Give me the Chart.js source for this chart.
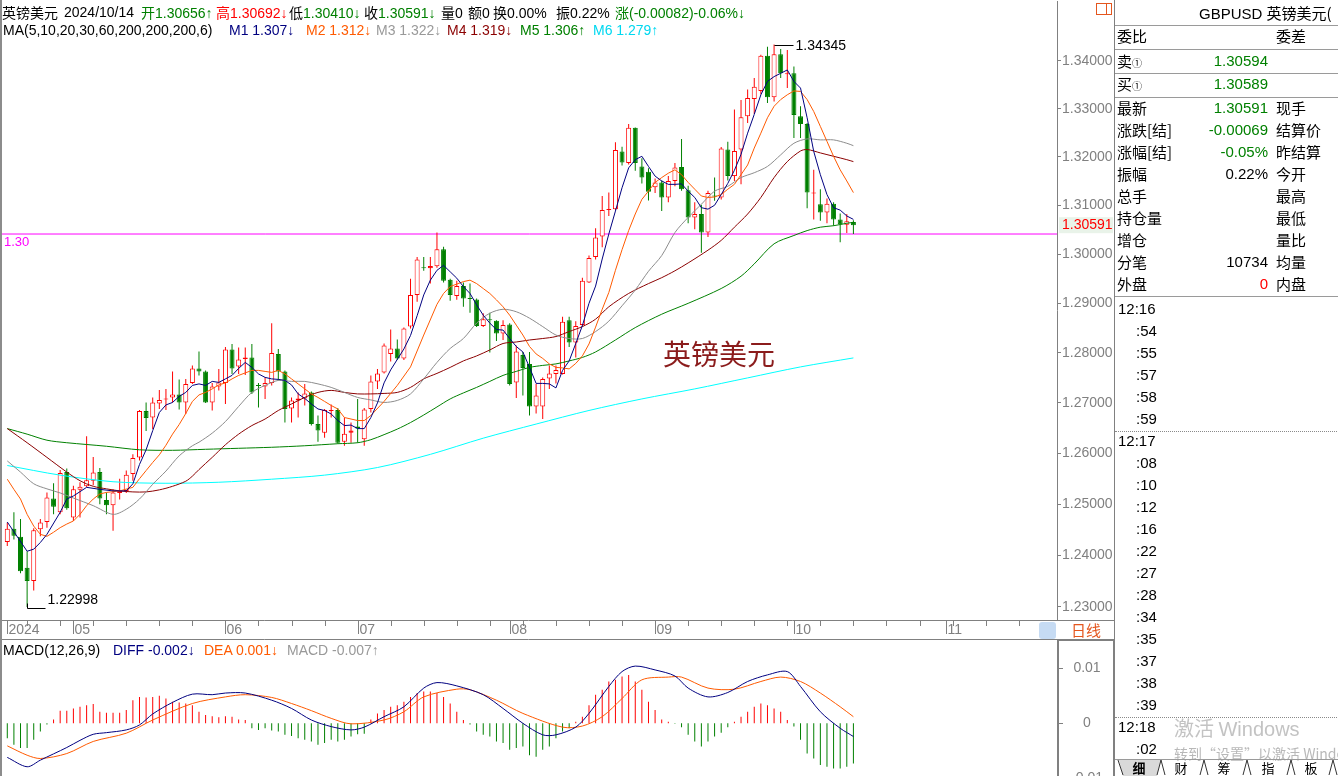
<!DOCTYPE html>
<html lang="zh-CN">
<head>
<meta charset="utf-8">
<title>英镑美元 GBPUSD 日线</title>
<script src="https://cdn.jsdelivr.net/npm/chart.js@4.4.1/dist/chart.umd.min.js"></script>
<style>
*{box-sizing:border-box}
html,body{margin:0;padding:0;background:#fff}
body{width:1338px;height:776px;overflow:hidden;position:relative;font-family:"Liberation Sans",Arial,"Noto Sans CJK SC",sans-serif;font-size:14px;color:#000}
canvas{position:absolute;display:block}
#cMain{left:0;top:0}
#cMacd{left:0;top:641px}
.a{position:absolute;white-space:nowrap;line-height:16px;font-size:14px}
.cj{font-family:"Noto Sans CJK SC",sans-serif}
.p{position:absolute;white-space:nowrap;font-size:15px;line-height:20px;height:20px}
.hl{position:absolute;left:0;width:224px;height:1px;background:#9a9a9a}
.dl{position:absolute;left:0;width:224px;height:0;border-top:1px dotted #8a8a8a}
</style>
</head>
<body>
<canvas id="cMain" width="1115" height="641"></canvas>
<canvas id="cMacd" width="1115" height="135"></canvas>

<!-- frame lines -->
<div style="position:absolute;left:0;top:0;width:2px;height:776px;background:#8c8c8c"></div>
<div style="position:absolute;left:1057px;top:620px;width:57px;height:1px;background:#808080"></div>
<div style="position:absolute;left:1039px;top:622px;width:17px;height:17px;background:#c6dbf3;border-radius:3px"></div>
<div class="a cj" style="left:1071px;top:621px;line-height:18px;font-size:15px;color:#e4561e">日线</div>
<div style="position:absolute;left:1057px;top:639px;width:58px;height:137px;border:2px solid #808080;border-bottom:none"></div>
<div style="position:absolute;left:1096px;top:3px;width:16px;height:12px;border:1px solid #e4561e"></div>
<div style="position:absolute;left:1106px;top:3px;width:1px;height:12px;background:#e4561e"></div>

<!-- main header -->
<div class="a cj" style="left:2px;top:4px">英镑美元</div>
<div class="a" style="left:64px;top:4px">2024/10/14</div>
<div class="a" style="left:141px;top:4px;color:#008000"><span class="cj">开</span>1.30656↑</div>
<div class="a" style="left:216px;top:4px;color:#ff0000"><span class="cj">高</span>1.30692↓</div>
<div class="a" style="left:289px;top:4px;color:#008000"><span class="cj" style="color:#000">低</span>1.30410↓</div>
<div class="a" style="left:364px;top:4px;color:#008000"><span class="cj" style="color:#000">收</span>1.30591↓</div>
<div class="a" style="left:441px;top:4px"><span class="cj">量</span>0</div>
<div class="a" style="left:468px;top:4px"><span class="cj">额</span>0</div>
<div class="a" style="left:493px;top:4px"><span class="cj">换</span>0.00%</div>
<div class="a" style="left:556px;top:4px"><span class="cj">振</span>0.22%</div>
<div class="a" style="left:615px;top:4px;color:#008000"><span class="cj">涨</span>(-0.00082)-0.06%↓</div>

<div class="a" style="left:3px;top:22px">MA(5,10,20,30,60,200,200,200,6)</div>
<div class="a" style="left:229px;top:22px;color:#000080">M1 1.307↓</div>
<div class="a" style="left:306px;top:22px;color:#ff5a00">M2 1.312↓</div>
<div class="a" style="left:376px;top:22px;color:#999999">M3 1.322↓</div>
<div class="a" style="left:447px;top:22px;color:#8b0000">M4 1.319↓</div>
<div class="a" style="left:520px;top:22px;color:#008000">M5 1.306↑</div>
<div class="a" style="left:593px;top:22px;color:#00d8f0">M6 1.279↑</div>

<!-- MACD header -->
<div class="a" style="left:3px;top:642px">MACD(12,26,9)</div>
<div class="a" style="left:113px;top:642px;color:#000080">DIFF -0.002↓</div>
<div class="a" style="left:204px;top:642px;color:#ff5a00">DEA 0.001↓</div>
<div class="a" style="left:287px;top:642px;color:#999999">MACD -0.007↑</div>

<!-- right info panel -->
<div id="panel" style="position:absolute;left:1114px;top:0;width:224px;height:776px;border-left:1px solid #808080;overflow:hidden">
  <div class="p" style="left:84px;top:3px">GBPUSD <span class="cj">英镑美元(</span></div>
  <div class="hl" style="top:25px"></div>
  <div class="p cj" style="left:2px;top:26px">委比</div><div class="p cj" style="left:161px;top:26px">委差</div>
  <div class="hl" style="top:49px"></div>
  <div class="p cj" style="left:2px;top:51px">卖<span style="font-size:10px">①</span></div><div class="p" style="right:70px;top:51px;color:#008000">1.30594</div>
  <div class="hl" style="top:73px"></div>
  <div class="p cj" style="left:2px;top:74px">买<span style="font-size:10px">①</span></div><div class="p" style="right:70px;top:74px;color:#008000">1.30589</div>
  <div class="hl" style="top:97px"></div>
  <div id="rows"></div>
  <div class="hl" style="top:296px"></div>
  <div id="ticks"></div>
  <div class="dl" style="top:431px"></div>
  <div class="dl" style="top:717px"></div>
  <div class="p cj" style="left:59px;top:715px;font-size:20px;line-height:26px;height:26px;color:#c3c3c3">激活 <span style="font-family:'Liberation Sans',Arial,sans-serif">Windows</span></div>
  <div class="p cj" style="left:59px;top:743px;font-size:14px;color:#b8b8b8">转到“设置”以激活 Windows。</div>
  <svg style="position:absolute;left:0;top:758px" width="224" height="18">
    <line x1="0" y1="1.5" x2="224" y2="1.5" stroke="#9a9a9a"/>
    <polygon points="4,2 8,18 42,18 46,2" fill="#d9d9d9"/>
    <path d="M3,2 L8,17 M46,2 L42,17 M46,2 L50,17 M89,2 L85,17 M89,2 L93,17 M132,2 L128,17 M132,2 L136,17 M176,2 L172,17 M176,2 L180,17 M218,2 L214,17 M218,2 L222,17" stroke="#333" stroke-width="1" fill="none"/>
    <g font-family="Noto Sans CJK SC" font-size="13" text-anchor="middle">
      <text x="24" y="15" font-weight="bold">细</text>
      <text x="66" y="15">财</text>
      <text x="109" y="15">筹</text>
      <text x="153" y="15">指</text>
      <text x="196" y="15">板</text>
    </g>
  </svg>
</div>

<script>
// ---------------- data ----------------
const START_DATE = '2024-04-17';      // first trading day shown
const SLOT_COUNT = 159;               // trading-day slots across the chart (incl. empty future)
const PRICE_TICKS = [1.23,1.24,1.25,1.26,1.27,1.28,1.29,1.30,1.31,1.32,1.33,1.34];
const MACD_TICKS = [0.01,0,-0.01];
const H_LINE = 1.3041, H_LINE_LABEL = '1.30';
const LAST_PRICE = 1.30591;

const OPEN = [1.2426,1.2452,1.2436,1.2376,1.2350,1.2451,1.2465,1.2511,1.2484,1.2563,
1.2474,1.2528,1.2535,1.2546,1.2563,1.2508,1.2498,1.2522,1.2526,1.2559,
1.2592,1.2684,1.2671,1.2699,1.2707,1.2711,1.2717,1.2701,1.2740,1.2769,
1.2763,1.2701,1.2733,1.2740,1.2807,1.2773,1.2788,1.2791,1.2736,1.2733,
1.2740,1.2798,1.2763,1.2689,1.2705,1.2709,1.2721,1.2658,1.2641,1.2684,
1.2686,1.2623,1.2641,1.2653,1.2628,1.2688,1.2743,1.2761,1.2798,1.2809,
1.2789,1.2853,1.2917,1.2973,1.2971,1.2975,1.3010,1.2948,1.2915,1.2935,
1.2911,1.2908,1.2854,1.2868,1.2865,1.2839,1.2857,1.2741,1.2796,1.2778,
1.2693,1.2693,1.2749,1.2758,1.2758,1.2866,1.2821,1.2856,1.2942,1.2994,
1.3036,1.3090,1.3092,1.3211,1.3187,1.3260,1.3180,1.3169,1.3137,1.3147,
1.3116,1.3150,1.3179,1.3131,1.3075,1.3082,1.3044,1.3120,1.3116,1.3215,
1.3160,1.3215,1.3284,1.3320,1.3337,1.3411,1.3324,1.3414,1.3372,1.3374,
1.3284,1.3268,1.3124,1.3102,1.3085,1.3103,1.3071,1.3060,1.30656];
const HIGH = [1.2464,1.2484,1.2471,1.2408,1.2453,1.2471,1.2523,1.2541,1.2567,1.2570,
1.2536,1.2543,1.2634,1.2593,1.2571,1.2523,1.2529,1.2550,1.2566,1.2598,
1.2686,1.2701,1.2711,1.2726,1.2728,1.2763,1.2747,1.2748,1.2775,1.2803,
1.2765,1.2740,1.2768,1.2812,1.2818,1.2811,1.2811,1.2818,1.2740,1.2751,
1.2860,1.2808,1.2765,1.2711,1.2721,1.2738,1.2723,1.2675,1.2688,1.2697,
1.2690,1.2671,1.2661,1.2708,1.2690,1.2755,1.2768,1.2819,1.2847,1.2827,
1.2851,1.2950,1.2994,1.2994,1.2994,1.3044,1.3015,1.2950,1.2946,1.2942,
1.2940,1.2910,1.2880,1.2881,1.2866,1.2866,1.2860,1.2815,1.2802,1.2802,
1.2738,1.2751,1.2775,1.2775,1.2873,1.2873,1.2864,1.2952,1.2997,1.3053,
1.3119,1.3126,1.3230,1.3221,1.3268,1.3261,1.3197,1.3176,1.3155,1.3151,
1.3160,1.3187,1.3237,1.3140,1.3106,1.3101,1.3130,1.3157,1.3220,1.3231,
1.3298,1.3318,1.3340,1.3364,1.3413,1.3430,1.34345,1.3425,1.3423,1.3388,
1.3305,1.3270,1.3173,1.3133,1.3114,1.3106,1.3083,1.3082,1.30692];
const LOW = [1.2418,1.2431,1.2365,1.22998,1.2332,1.2437,1.2454,1.2480,1.2480,1.2489,
1.2467,1.2474,1.2533,1.2537,1.2500,1.2480,1.2448,1.2509,1.2522,1.2546,
1.2586,1.2644,1.2648,1.2688,1.2686,1.2701,1.2687,1.2678,1.2738,1.2755,
1.2700,1.2685,1.2725,1.2698,1.2758,1.2758,1.2756,1.2718,1.2691,1.2708,
1.2735,1.2745,1.2661,1.2661,1.2671,1.2695,1.2655,1.2623,1.2631,1.2671,
1.2619,1.2615,1.2621,1.2621,1.2615,1.2681,1.2728,1.2759,1.2783,1.2786,
1.2786,1.2849,1.2903,1.2966,1.2940,1.2972,1.2942,1.2905,1.2907,1.2893,
1.2881,1.2852,1.2852,1.2801,1.2824,1.2826,1.2735,1.2710,1.2715,1.2675,
1.2679,1.2668,1.2728,1.2739,1.2757,1.2812,1.2791,1.2853,1.2941,1.2989,
1.3014,1.3078,1.3090,1.3182,1.3184,1.3171,1.3145,1.3110,1.3125,1.3088,
1.3106,1.3139,1.3130,1.3063,1.3051,1.3003,1.3035,1.3109,1.3112,1.3151,
1.3150,1.3143,1.3270,1.3289,1.3330,1.3312,1.3315,1.3364,1.3343,1.3239,
1.3239,1.3094,1.3071,1.3068,1.3063,1.3058,1.3024,1.3043,1.30410];
const CLOSE = [1.2452,1.2438,1.2369,1.2350,1.2449,1.2464,1.2513,1.2495,1.2561,1.2492,
1.2529,1.2534,1.2547,1.2562,1.2511,1.2498,1.2523,1.2526,1.2558,1.2591,
1.2684,1.2670,1.2701,1.2706,1.2709,1.2717,1.2701,1.2738,1.2769,1.2763,
1.2701,1.2733,1.2741,1.2807,1.2769,1.2787,1.2791,1.2721,1.2734,1.2740,
1.2800,1.2763,1.2688,1.2705,1.2709,1.2719,1.2658,1.2645,1.2686,1.2686,
1.2621,1.2639,1.2645,1.2649,1.2687,1.2743,1.2759,1.2815,1.2809,1.2789,
1.2849,1.2917,1.2989,1.2971,1.2976,1.3010,1.2946,1.2917,1.2935,1.2910,
1.2909,1.2854,1.2868,1.2866,1.2839,1.2856,1.2738,1.2803,1.2770,1.2693,
1.2715,1.2748,1.2759,1.2766,1.2863,1.2821,1.2854,1.2946,1.2992,1.3034,
1.3090,1.3092,1.3214,1.3188,1.3260,1.3187,1.3157,1.3128,1.3147,1.3116,
1.3150,1.3178,1.3133,1.3075,1.3082,1.3044,1.3125,1.3118,1.3217,1.3160,
1.3212,1.3282,1.3322,1.3346,1.3411,1.3324,1.3414,1.3374,1.3374,1.3287,
1.3268,1.3126,1.3126,1.3085,1.3103,1.3071,1.3061,1.3067,1.30591];

// moving averages: [candle index, value]
const MA5 = [[0,1.2465],[3,1.2408],[4,1.2412],[5,1.2425],[6,1.2441],[8,1.2484],[9,1.2510],[10,1.2516],[12,1.2533],[14,1.2529],[16,1.2526],[18,1.2526],[19,1.2540],[20,1.2578],[21,1.2607],[22,1.2645],[23,1.2681],[24,1.2696],[25,1.2701],[26,1.2713],[27,1.2721],[28,1.2735],[29,1.2738],[30,1.2735],[31,1.2743],[32,1.2741],[33,1.2748],[34,1.2755],[35,1.2769],[36,1.2781],[37,1.2771],[38,1.2758],[39,1.2751],[40,1.2748],[41,1.2747],[42,1.2745],[43,1.2736],[44,1.2718],[45,1.2709],[46,1.2698],[47,1.2688],[48,1.2685],[49,1.2678],[50,1.2665],[51,1.2655],[52,1.2656],[53,1.2649],[54,1.2649],[55,1.2671],[56,1.2700],[57,1.2740],[58,1.2766],[59,1.2787],[60,1.2808],[61,1.2835],[62,1.2875],[63,1.2917],[64,1.2947],[65,1.2967],[66,1.2977],[67,1.2964],[68,1.2951],[69,1.2934],[70,1.2920],[71,1.2897],[72,1.2876],[73,1.2860],[74,1.2847],[75,1.2846],[76,1.2829],[77,1.2813],[78,1.2802],[79,1.2771],[80,1.2739],[81,1.2739],[82,1.2738],[83,1.2730],[84,1.2765],[85,1.2784],[86,1.2819],[87,1.2855],[88,1.2900],[89,1.2935],[90,1.2990],[91,1.3041],[92,1.3088],[93,1.3136],[94,1.3177],[95,1.3194],[96,1.3201],[97,1.3180],[98,1.3160],[99,1.3150],[100,1.3143],[101,1.3143],[102,1.3144],[103,1.3129],[104,1.3116],[105,1.3095],[106,1.3092],[107,1.3100],[108,1.3122],[109,1.3145],[110,1.3172],[111,1.3205],[112,1.3249],[113,1.3288],[114,1.3329],[115,1.3357],[116,1.3367],[117,1.3374],[118,1.3381],[119,1.3357],[120,1.3343],[121,1.3281],[122,1.3211],[123,1.3163],[124,1.3122],[125,1.3095],[126,1.3090],[127,1.3078],[128,1.3071]];
const MA10 = [[0,1.2549],[1,1.2529],[2,1.2510],[3,1.2480],[4,1.2457],[5,1.2441],[6,1.2437],[7,1.2445],[8,1.2454],[9,1.2461],[10,1.2467],[11,1.2480],[12,1.2497],[13,1.2510],[14,1.2520],[15,1.2523],[17,1.2526],[19,1.2533],[20,1.2550],[21,1.2566],[22,1.2582],[23,1.2597],[24,1.2616],[25,1.2638],[26,1.2657],[27,1.2679],[28,1.2703],[29,1.2716],[30,1.2721],[31,1.2728],[32,1.2736],[33,1.2740],[34,1.2748],[35,1.2755],[36,1.2760],[37,1.2765],[38,1.2765],[39,1.2763],[40,1.2761],[41,1.2765],[42,1.2758],[43,1.2748],[44,1.2738],[45,1.2728],[46,1.2718],[47,1.2711],[48,1.2703],[49,1.2695],[50,1.2688],[51,1.2671],[52,1.2668],[53,1.2665],[54,1.2665],[55,1.2675],[57,1.2703],[59,1.2735],[61,1.2772],[63,1.2836],[65,1.2898],[66,1.2920],[67,1.2934],[69,1.2944],[70,1.2947],[71,1.2940],[72,1.2930],[73,1.2920],[74,1.2907],[75,1.2893],[76,1.2876],[77,1.2856],[78,1.2836],[79,1.2813],[80,1.2798],[81,1.2789],[82,1.2778],[83,1.2771],[84,1.2770],[85,1.2768],[86,1.2779],[87,1.2794],[88,1.2818],[89,1.2852],[90,1.2888],[91,1.2922],[92,1.2967],[93,1.3009],[94,1.3048],[95,1.3082],[96,1.3112],[97,1.3129],[98,1.3147],[99,1.3157],[100,1.3166],[101,1.3173],[102,1.3163],[103,1.3147],[104,1.3133],[105,1.3119],[106,1.3116],[107,1.3117],[108,1.3122],[109,1.3133],[110,1.3143],[111,1.3163],[112,1.3183],[113,1.3218],[114,1.3249],[115,1.3281],[116,1.3305],[117,1.3319],[118,1.3329],[119,1.3337],[120,1.3336],[121,1.3319],[122,1.3294],[123,1.3263],[124,1.3232],[125,1.3201],[126,1.3173],[127,1.3150],[128,1.3126]];
const MA20 = [[0,1.2585],[2,1.2563],[4,1.2540],[6,1.2530],[8,1.2522],[10,1.2512],[13,1.2497],[16,1.2480],[18,1.2490],[20,1.2510],[22,1.2539],[24,1.2565],[26,1.2595],[28,1.2615],[29,1.2622],[31,1.2640],[33,1.2663],[35,1.2693],[37,1.2721],[39,1.2735],[41,1.2745],[43,1.2743],[45,1.2743],[47,1.2738],[49,1.2731],[51,1.2721],[53,1.2711],[55,1.2706],[57,1.2701],[59,1.2705],[61,1.2718],[63,1.2748],[65,1.2781],[67,1.2809],[69,1.2829],[71,1.2860],[73,1.2880],[75,1.2888],[77,1.2883],[79,1.2870],[81,1.2853],[83,1.2836],[85,1.2829],[87,1.2829],[89,1.2843],[91,1.2864],[93,1.2895],[95,1.2927],[97,1.2965],[99,1.2997],[101,1.3044],[103,1.3075],[105,1.3102],[107,1.3129],[109,1.3139],[111,1.3157],[113,1.3167],[115,1.3180],[117,1.3204],[119,1.3228],[121,1.3237],[123,1.3235],[125,1.3235],[127,1.3228],[128,1.3223]];
const MA30 = [[0,1.2649],[3,1.2621],[6,1.2592],[9,1.2563],[11,1.2546],[13,1.2535],[15,1.2530],[17,1.2526],[19,1.2524],[21,1.2524],[23,1.2528],[25,1.2535],[27,1.2545],[28,1.2555],[29,1.2568],[31,1.2592],[33,1.2617],[35,1.2638],[37,1.2655],[39,1.2668],[41,1.2685],[43,1.2698],[45,1.2711],[47,1.2721],[49,1.2725],[51,1.2721],[53,1.2718],[55,1.2718],[57,1.2719],[59,1.2721],[61,1.2731],[63,1.2748],[65,1.2759],[67,1.2771],[69,1.2784],[71,1.2794],[73,1.2806],[75,1.2819],[77,1.2822],[79,1.2826],[81,1.2829],[83,1.2833],[85,1.2843],[87,1.2853],[89,1.2868],[91,1.2893],[94,1.2920],[97,1.2940],[99,1.2952],[101,1.2966],[103,1.2982],[106,1.3008],[108,1.3028],[110,1.3055],[112,1.3082],[114,1.3116],[116,1.3157],[118,1.3190],[120,1.3212],[121,1.3215],[123,1.3208],[125,1.3201],[127,1.3194],[128,1.3190]];
const MA60 = [[0,1.2649],[3,1.2638],[6,1.2626],[9,1.2621],[15,1.2614],[20,1.2607],[25,1.2606],[30,1.2608],[35,1.2610],[40,1.2612],[45,1.2615],[50,1.2619],[53,1.2621],[55,1.2627],[57,1.2637],[59,1.2648],[61,1.2661],[63,1.2676],[65,1.2692],[67,1.2708],[69,1.2720],[71,1.2731],[73,1.2743],[75,1.2755],[77,1.2763],[79,1.2771],[81,1.2775],[83,1.2778],[85,1.2784],[87,1.2791],[89,1.2802],[92,1.2826],[95,1.2851],[99,1.2878],[103,1.2900],[108,1.2930],[111,1.2955],[113,1.2980],[116,1.3021],[119,1.3038],[121,1.3048],[123,1.3055],[125,1.3058],[127,1.3063],[128,1.3065]];
const MA200 = [[0,1.2576],[8,1.2557],[16,1.2544],[24,1.2541],[32,1.2543],[40,1.2549],[48,1.2557],[56,1.2572],[64,1.2598],[72,1.2630],[80,1.2658],[88,1.2685],[96,1.2708],[104,1.2728],[112,1.2750],[120,1.2772],[128,1.2790]];

// MACD(12,26,9)
const DIFF = [[0,-0.0062],[3,-0.0079],[5,-0.0067],[9,-0.0044],[11,-0.0031],[13,-0.0020],[15,-0.0017],[18,-0.0012],[20,-0.0003],[22,0.0017],[25,0.0038],[28,0.0053],[31,0.0052],[33,0.0055],[36,0.0055],[40,0.0042],[43,0.0027],[46,0.0006],[49,-0.0006],[52,-0.0012],[54,-0.0007],[57,0.0012],[60,0.0030],[63,0.0064],[65,0.0074],[68,0.0068],[72,0.0052],[75,0.0027],[78,0.0000],[81,-0.0021],[83,-0.0021],[86,-0.0007],[88,0.0018],[91,0.0067],[93,0.0094],[95,0.0104],[98,0.0097],[101,0.0086],[103,0.0064],[106,0.0048],[109,0.0056],[112,0.0076],[115,0.0088],[118,0.0094],[120,0.0067],[123,0.0021],[126,-0.0009],[128,-0.0024]];
const DEA = [[0,-0.0041],[3,-0.0058],[5,-0.0064],[9,-0.0055],[13,-0.0033],[18,-0.0018],[22,0.0006],[28,0.0036],[33,0.0048],[36,0.0052],[40,0.0047],[43,0.0036],[46,0.0023],[49,0.0009],[52,-0.0001],[57,0.0006],[60,0.0021],[63,0.0048],[68,0.0062],[70,0.0061],[74,0.0042],[78,0.0018],[84,-0.0007],[87,-0.0005],[90,0.0012],[93,0.0045],[96,0.0079],[100,0.0084],[102,0.0084],[106,0.0064],[110,0.0062],[114,0.0076],[117,0.0084],[120,0.0076],[123,0.0055],[126,0.0030],[128,0.0012]];
const MACD_BAR = [-0.0027,-0.0039,-0.0045,-0.0045,-0.0030,-0.0015,-0.0002,0.0007,0.0023,0.0023,
0.0027,0.0030,0.0033,0.0035,0.0021,0.0019,0.0019,0.0019,0.0024,0.0042,
0.0048,0.0047,0.0048,0.0050,0.0045,0.0039,0.0038,0.0036,0.0033,0.0021,
0.0015,0.0013,0.0011,0.0013,0.0012,0.0007,0.0006,-0.0009,-0.0012,-0.0009,
-0.0013,-0.0015,-0.0021,-0.0023,-0.0027,-0.0030,-0.0033,-0.0039,-0.0036,-0.0030,
-0.0033,-0.0030,-0.0024,-0.0020,-0.0019,0.0007,0.0018,0.0024,0.0030,0.0033,
0.0039,0.0048,0.0055,0.0058,0.0058,0.0055,0.0048,0.0036,0.0021,0.0006,
-0.0002,-0.0015,-0.0021,-0.0024,-0.0033,-0.0036,-0.0048,-0.0045,-0.0042,-0.0058,
-0.0061,-0.0048,-0.0042,-0.0027,-0.0015,-0.0009,0.0003,0.0012,0.0033,0.0052,
0.0061,0.0076,0.0079,0.0085,0.0088,0.0076,0.0061,0.0039,0.0024,0.0007,
0.0003,-0.0001,-0.0007,-0.0021,-0.0033,-0.0042,-0.0033,-0.0024,-0.0017,-0.0007,
0.0003,0.0012,0.0021,0.0030,0.0036,0.0033,0.0027,0.0021,0.0006,-0.0006,
-0.0030,-0.0055,-0.0064,-0.0076,-0.0079,-0.0082,-0.0082,-0.0079,-0.0073];

// right panel text
const INFO_ROWS = [['最新','1.30591','#008000','现手'],['涨跌[结]','-0.00069','#008000','结算价'],['涨幅[结]','-0.05%','#008000','昨结算'],['振幅','0.22%','#000','今开'],['总手','','#000','最高'],['持仓量','','#000','最低'],['增仓','','#000','量比'],['分笔','10734','#000','均量'],['外盘','0','#ff0000','内盘']];
const TICK_TIMES = ['12:16',':54',':55',':57',':58',':59','12:17',':08',':10',':12',':16',':22',':27',':28',':34',':35',':37',':38',':39','12:18',':02'];

// ---------------- layout constants (styles) ----------------
const RED = '#ff0000', GREEN = '#008000';
const X_MIN = -0.80, X_MAX = 158.80;        // slot range on the x scale
const Y_MIN = 1.22768, Y_MAX = 1.35265;      // log price range of the plot area
const M_MIN = -0.00958, M_MAX = 0.01496;
const FONT = '"Liberation Sans", Arial, sans-serif';
const CJK = '"Noto Sans CJK SC", sans-serif';

// trading-day categories
function tradingDays(start, n){
  const out = []; const d = new Date(start + 'T00:00:00Z');
  while (out.length < n){ const w = d.getUTCDay(); if (w !== 0 && w !== 6) out.push(new Date(d)); d.setUTCDate(d.getUTCDate() + 1); }
  return out;
}
const DAYS = tradingDays(START_DATE, SLOT_COUNT);

// panel rows
(function(){
  let h = '';
  INFO_ROWS.forEach((r, k) => {
    const top = 98 + k * 22;
    h += `<div class="p cj" style="left:2px;top:${top}px">${r[0]}</div>`;
    if (r[1] !== '') h += `<div class="p" style="right:70px;top:${top}px;color:${r[2]}">${r[1]}</div>`;
    h += `<div class="p cj" style="left:161px;top:${top}px">${r[3]}</div>`;
  });
  document.getElementById('rows').innerHTML = h;
  let t = '';
  TICK_TIMES.forEach((s, k) => {
    const top = 299 + k * 22;
    const left = s.startsWith(':') ? 21 : 3;
    t += `<div class="p" style="left:${left}px;top:${top}px">${s}</div>`;
  });
  document.getElementById('ticks').innerHTML = t;
})();

const isUp = i => CLOSE[i] >= OPEN[i];
const pairs = arr => arr.map(p => ({x: p[0], y: p[1]}));
const maLine = (arr, color, order, tension) => ({type:'line', data: pairs(arr), borderColor: color, borderWidth: 1, pointRadius: 0, tension: tension, order: order, clip: 0});

// ---------------- main chart ----------------
const mainDecor = {
  id: 'mainDecor',
  afterDatasetsDraw(chart){
    const {ctx, scales:{x, y}} = chart;
    ctx.save();
    const yl = y.getPixelForValue(H_LINE);
    ctx.fillStyle = '#ff00ff'; ctx.font = '13px ' + FONT; ctx.textBaseline = 'middle'; ctx.textAlign = 'left';
    ctx.fillText(H_LINE_LABEL, 4, yl + 8);
    let hi = 0, lo = 0;
    HIGH.forEach((v, i) => { if (v > HIGH[hi]) hi = i; });
    LOW.forEach((v, i) => { if (v < LOW[lo]) lo = i; });
    ctx.strokeStyle = '#000'; ctx.lineWidth = 1; ctx.fillStyle = '#000'; ctx.font = '14px ' + FONT;
    const hx = Math.round(x.getPixelForValue(hi)) + 0.5, hy = Math.round(y.getPixelForValue(HIGH[hi])) + 0.5;
    ctx.beginPath(); ctx.moveTo(hx, hy); ctx.lineTo(hx + 19, hy); ctx.stroke();
    ctx.fillText(HIGH[hi].toFixed(5), hx + 21, hy + 1);
    const lx = Math.round(x.getPixelForValue(lo)) + 0.5, ly = Math.round(y.getPixelForValue(LOW[lo])) + 0.5;
    ctx.beginPath(); ctx.moveTo(lx, ly - 4); ctx.lineTo(lx, ly + 1); ctx.lineTo(lx + 18, ly + 1); ctx.stroke();
    ctx.fillText(LOW[lo].toFixed(5), lx + 20, ly - 7);
    ctx.fillStyle = '#8b1c1c'; ctx.font = '28px ' + CJK; ctx.textAlign = 'left';
    ctx.fillText('英镑美元', 663, 354);
    const py = y.getPixelForValue(LAST_PRICE);
    ctx.fillStyle = '#e9f3e9'; ctx.fillRect(1059, py - 8, 54, 16);
    ctx.fillStyle = RED; ctx.font = '14px ' + FONT; ctx.fillText(LAST_PRICE.toFixed(5), 1062, py);
    ctx.restore();
  },
  afterDraw(chart){
    const {ctx, scales:{x}} = chart;
    ctx.save();
    ctx.strokeStyle = '#808080'; ctx.lineWidth = 1;
    ctx.beginPath(); ctx.moveTo(0, 620.5); ctx.lineTo(1057, 620.5); ctx.moveTo(0, 639.5); ctx.lineTo(1057, 639.5); ctx.stroke();
    ctx.fillStyle = '#808080'; ctx.font = '14px ' + FONT; ctx.textBaseline = 'middle'; ctx.textAlign = 'left';
    DAYS.forEach((d, i) => {
      const px = Math.round(x.getPixelForValue(i)) + 0.5;
      if (px > 1038) return;
      const monthStart = i === 0 || d.getUTCMonth() !== DAYS[i - 1].getUTCMonth();
      if (monthStart){
        ctx.beginPath(); ctx.moveTo(px, 621); ctx.lineTo(px, 634); ctx.stroke();
        const lab = i === 0 ? String(d.getUTCFullYear()) : String(d.getUTCMonth() + 1).padStart(2, '0');
        ctx.fillText(lab, px + 1, 630);
      } else if (d.getUTCDay() === 1){
        ctx.beginPath(); ctx.moveTo(px, 621); ctx.lineTo(px, 626); ctx.stroke();
      }
    });
    ctx.restore();
  }
};

const wickData = HIGH.map((h, i) => ({x: i, y: [LOW[i], h]}));
const bodyData = OPEN.map((o, i) => ({x: i, y: [o, CLOSE[i]]}));

new Chart(document.getElementById('cMain'), {
  type: 'bar',
  data: {
    datasets: [
      {type:'line', data:[{x:X_MIN, y:H_LINE},{x:X_MAX, y:H_LINE}], borderColor:'#ff00ff', borderWidth:1, pointRadius:0, order:7},
      {data: wickData, grouped:false, barThickness:1, inflateAmount:0, borderWidth:0,
       backgroundColor: c => isUp(c.dataIndex) ? RED : GREEN, order:6},
      {data: bodyData, grouped:false, barThickness:5, inflateAmount:0, borderWidth:1, borderSkipped:false, minBarLength:1,
       borderColor: c => isUp(c.dataIndex) ? RED : GREEN,
       backgroundColor: c => {
         const i = c.dataIndex; if (!isUp(i)) return GREEN;
         const ys = c.chart.scales.y; const h = Math.abs(ys.getPixelForValue(OPEN[i]) - ys.getPixelForValue(CLOSE[i]));
         return h < 2.5 ? RED : '#ffffff';
       }, order:5},
      maLine(MA200, '#00ffff', 4, 0.3),
      maLine(MA60, '#008000', 3, 0.3),
      maLine(MA30, '#8b0000', 2, 0.3),
      maLine(MA20, '#8c8c8c', 1, 0.3),
      maLine(MA10, '#ff5a00', 0, 0),
      maLine(MA5, '#000080', -1, 0)
    ]
  },
  options: {
    responsive:false, animation:false, events:[],
    layout:{padding:{left:2, top:1, right:0, bottom:22}},
    plugins:{legend:{display:false}, tooltip:{enabled:false}},
    scales:{
      x:{type:'linear', min:X_MIN, max:X_MAX, offset:false, display:false},
      y:{type:'logarithmic', position:'right', min:Y_MIN, max:Y_MAX, bounds:'data',
         afterFit(s){ s.width = 58; s.paddingTop = 0; s.paddingBottom = 0; },
         afterBuildTicks(s){ s.ticks = PRICE_TICKS.map(v => ({value:v})); },
         ticks:{autoSkip:false, color:'#808080', padding:1, font:{family:FONT, size:14}, callback:v => Number(v).toFixed(5)},
         grid:{drawOnChartArea:false, drawTicks:true, tickLength:4, color:'#808080', tickColor:'#808080'},
         border:{display:true, color:'#808080'}}
    }
  },
  plugins:[mainDecor]
});

// ---------------- MACD chart ----------------
const macdDecor = {
  id:'macdDecor',
  afterDraw(chart){
    const {ctx, scales:{y}} = chart;
    ctx.save();
    ctx.fillStyle = '#808080'; ctx.strokeStyle = '#808080'; ctx.font = '14px ' + FONT;
    ctx.textAlign = 'center'; ctx.textBaseline = 'middle';
    MACD_TICKS.forEach(v => {
      const py = y.getPixelForValue(v);
      ctx.fillText(v === 0 ? '0' : String(v), 1087, py);
      ctx.beginPath(); ctx.moveTo(1059, Math.round(py) + 0.5); ctx.lineTo(1063, Math.round(py) + 0.5); ctx.stroke();
    });
    ctx.restore();
  }
};
new Chart(document.getElementById('cMacd'), {
  type:'bar',
  data:{datasets:[
    {data: MACD_BAR.map((v, i) => ({x:i, y:v})), grouped:false, barThickness:1, inflateAmount:0, borderWidth:0,
     backgroundColor: c => (MACD_BAR[c.dataIndex] >= 0 ? RED : GREEN), order:3},
    {type:'line', data: pairs(DEA), borderColor:'#ff5a00', borderWidth:1, pointRadius:0, tension:0.3, order:2},
    {type:'line', data: pairs(DIFF), borderColor:'#000080', borderWidth:1, pointRadius:0, tension:0.3, order:1}
  ]},
  options:{
    responsive:false, animation:false, events:[],
    layout:{padding:{left:2, right:58, top:0, bottom:0}},
    plugins:{legend:{display:false}, tooltip:{enabled:false}},
    scales:{
      x:{type:'linear', min:X_MIN, max:X_MAX, offset:false, display:false},
      y:{type:'linear', min:M_MIN, max:M_MAX, display:false}
    }
  },
  plugins:[macdDecor]
});
</script>
</body>
</html>
